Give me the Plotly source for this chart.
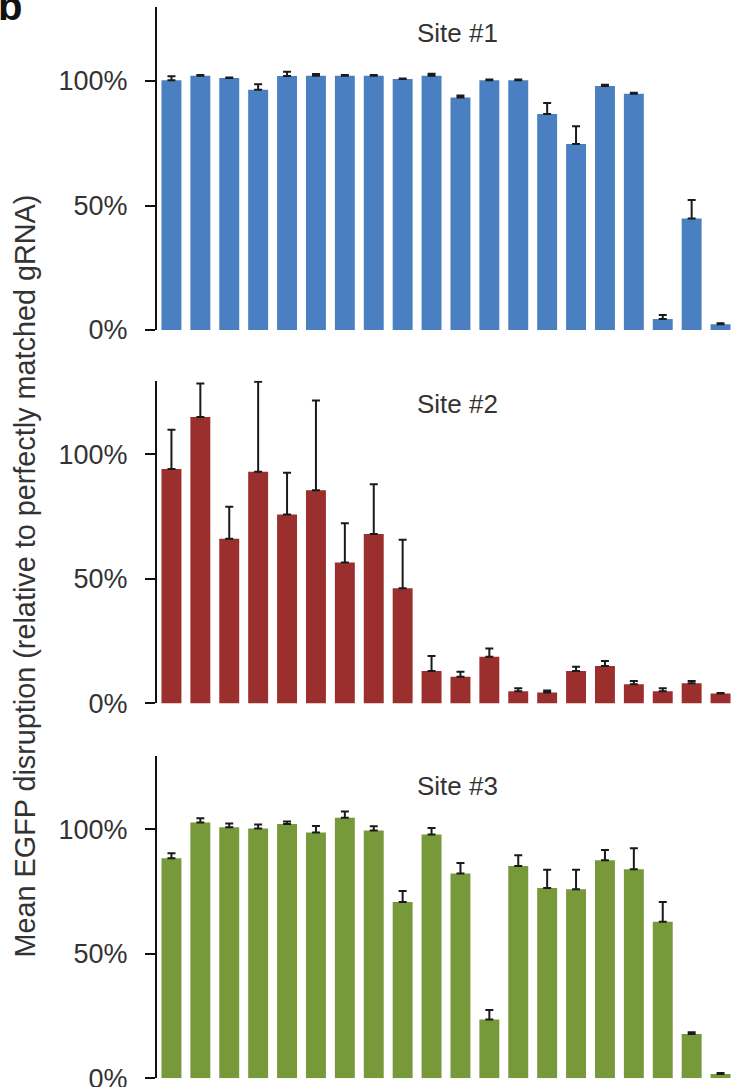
import plotly.graph_objects as go

# ---- data ----
categories = list(range(1, 21))

site1_values = [100.3, 102.1, 101.2, 96.5, 102.0, 102.1, 102.1, 102.1, 100.8, 102.1,
                93.4, 100.3, 100.3, 86.7, 74.7, 98.0, 94.9, 4.4, 44.8, 2.3]
site1_errors = [1.6, 0.3, 0.2, 2.2, 1.7, 0.7, 0.3, 0.3, 0.2, 0.8,
                0.8, 0.3, 0.3, 4.5, 7.1, 0.5, 0.4, 1.6, 7.4, 0.4]

site2_values = [94.1, 115.0, 66.1, 93.0, 75.9, 85.6, 56.6, 68.0, 46.2, 13.0,
                10.7, 18.7, 4.9, 4.4, 13.0, 15.0, 7.7, 4.9, 8.1, 4.0]
site2_errors = [15.8, 13.5, 12.9, 36.2, 16.7, 36.0, 15.8, 20.0, 19.5, 6.0,
                2.0, 3.3, 1.2, 0.8, 1.7, 2.0, 1.3, 1.2, 0.9, 0.2]

site3_values = [88.4, 102.7, 100.8, 100.3, 102.1, 98.7, 104.6, 99.5, 70.8, 97.9,
                82.3, 23.6, 85.3, 76.4, 75.9, 87.6, 84.0, 62.9, 17.8, 1.7]
site3_errors = [2.0, 1.7, 1.5, 1.6, 1.0, 2.6, 2.6, 1.7, 4.4, 2.6,
                4.2, 3.8, 4.3, 7.4, 7.9, 4.1, 8.4, 7.9, 0.7, 0.4]

site_titles = ["Site #1", "Site #2", "Site #3"]
tick_values = [0, 50, 100]
tick_labels = ["0%", "50%", "100%"]
y_title = "Mean EGFP disruption (relative to perfectly matched gRNA)"

# ---- styling / geometry ----
W, H = 738, 1087
FONT = "Liberation Sans, Arial, Helvetica, sans-serif"
TEXT_COLOR = "#333333"
colors = ["#4a80c2", "#9a2f2e", "#77993a"]
series = [(site1_values, site1_errors), (site2_values, site2_errors), (site3_values, site3_errors)]


def px_x(p):
    return p / W


def px_y(p):
    return 1 - p / H


# page-pixel geometry of each panel: (zero pixel, top pixel)
panels_px = [(330.0, 7.3), (703.4, 380.7), (1078.3, 755.6)]
title_px = [33.5, 403.5, 786.0]
x_dom = [px_x(157.0), px_x(735.0)]
y_max = 129.6

fig = go.Figure()
for i, ((vals, errs), col) in enumerate(zip(series, colors)):
    n = i + 1
    fig.add_trace(go.Bar(
        x=[c - 1 for c in categories], y=vals,
        marker=dict(color=col, line=dict(width=0)),
        error_y=dict(type="data", array=errs, arrayminus=[0] * len(errs), symmetric=False,
                     color="#1a1a1a", thickness=2, width=4),
        xaxis=f"x{n}" if n > 1 else "x", yaxis=f"y{n}" if n > 1 else "y",
        showlegend=False, hoverinfo="skip",
    ))

layout = dict(
    width=W, height=H, margin=dict(l=0, r=0, t=0, b=0, pad=0, autoexpand=False),
    paper_bgcolor="white", plot_bgcolor="white",
    bargap=0.31, showlegend=False,
    font=dict(family=FONT, color=TEXT_COLOR, size=27),
)
annotations = []
for i, (zero_px, top_px) in enumerate(panels_px):
    n = i + 1
    xk = "xaxis" if n == 1 else f"xaxis{n}"
    yk = "yaxis" if n == 1 else f"yaxis{n}"
    layout[xk] = dict(domain=x_dom, range=[-0.5, 19.5], showline=False, showgrid=False,
                      zeroline=False, showticklabels=False, ticks="",
                      anchor="y" if n == 1 else f"y{n}", fixedrange=True, automargin=False)
    layout[yk] = dict(domain=[px_y(zero_px), px_y(top_px)], range=[0, y_max],
                      showline=True, linecolor="#111111", linewidth=2,
                      ticks="outside", ticklen=10, tickwidth=2, tickcolor="#111111",
                      tickvals=tick_values, ticktext=tick_labels,
                      tickfont=dict(family=FONT, size=27, color=TEXT_COLOR),
                      ticklabelstandoff=12, ticklabeloverflow="allow", automargin=False,
                      showgrid=False, zeroline=False,
                      anchor="x" if n == 1 else f"x{n}", fixedrange=True)
    annotations.append(dict(text=site_titles[i], xref="paper", yref="paper",
                            x=px_x(457), y=px_y(title_px[i]), xanchor="center", yanchor="middle",
                            showarrow=False, font=dict(family=FONT, size=26, color=TEXT_COLOR)))

annotations.append(dict(text=y_title, xref="paper", yref="paper", x=px_x(24), y=px_y(576.5),
                        xanchor="center", yanchor="middle", textangle=-90, showarrow=False,
                        font=dict(family=FONT, size=28.8, color=TEXT_COLOR)))
annotations.append(dict(text="<b>b</b>", xref="paper", yref="paper", x=px_x(0), y=px_y(6),
                        xanchor="left", yanchor="middle", xshift=-4, showarrow=False,
                        font=dict(family=FONT, size=40, color="#111111")))
layout["annotations"] = annotations
fig.update_layout(**layout)

fig.write_html("out.html", config={"displayModeBar": False, "staticPlot": True},
               post_script="document.body.style.margin='0';document.body.style.overflow='hidden';")
